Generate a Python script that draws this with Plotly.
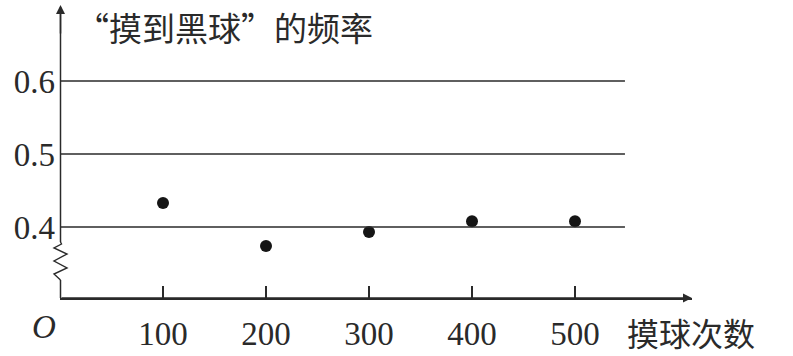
import plotly.graph_objects as go

# ---- data ----
draws = [100, 200, 300, 400, 500]
freq = [0.433, 0.374, 0.393, 0.408, 0.408]
y_ticks = [0.4, 0.5, 0.6]
y_tick_text = ["0.4", "0.5", "0.6"]
x_tick_text = ["100", "200", "300", "400", "500"]
title_text = "“摸到黑球”的频率"
x_title = "摸球次数"

# ---- geometry ----
W, H = 793, 356
ML, MR, MT, MB = 60, 101, 5, 58
PW, PH = W - ML - MR, H - MT - MB
px_per_x = 1.03          # pixels per x unit
px_per_y = 730.0         # pixels per y unit
x_max = PW / px_per_x
y_min = 0.4 - 71 / px_per_y
y_max = y_min + PH / px_per_y
grid_end = 548.5

ink = "#2a2a2a"
serif = "Liberation Serif"
cjk = "Noto Sans CJK SC"

fig = go.Figure()
fig.add_trace(go.Scatter(
    x=draws, y=freq, mode="markers",
    marker=dict(size=12, color="#151515"),
    hoverinfo="skip", showlegend=False, cliponaxis=False))

shapes = []
for v in y_ticks:
    shapes.append(dict(type="line", xref="x", yref="y", x0=0, x1=grid_end, y0=v, y1=v,
                       line=dict(color=ink, width=1.5)))

def px(p):
    # horizontal pixel offset from the y axis -> paper fraction
    return p / PW

def dy(p):
    return p / px_per_y

# y axis with break (zigzag)
zig_bot = y_min + dy(18)
zig_top = zig_bot + dy(38)
shapes.append(dict(type="line", xref="paper", yref="y", x0=px(0.5), x1=px(0.5),
                   y0=y_min, y1=zig_bot, line=dict(color=ink, width=1.5)))
shapes.append(dict(type="line", xref="paper", yref="y", x0=px(0.5), x1=px(0.5),
                   y0=zig_top, y1=y_max - dy(4), line=dict(color=ink, width=1.5)))
zig_pts = [(0.5, 0), (-6, 6), (7, 12), (-6, 19), (7, 26), (-6, 32), (1.5, 36), (0.5, 38)]
path = "M " + " L ".join(f"{px(a)},{zig_bot + dy(b)}" for a, b in zig_pts)
shapes.append(dict(type="path", xref="paper", yref="y", path=path,
                   line=dict(color=ink, width=1.4)))

annotations = [
    dict(x=px(0.5), y=y_max, ax=0, ay=30, xref="paper", yref="y",
         axref="pixel", ayref="pixel",
         text="", showarrow=True, arrowhead=2, arrowsize=1.2, arrowwidth=1.5,
         arrowcolor=ink),
    dict(x=x_max, y=y_min, ax=0, ay=y_min, xref="x", yref="y", axref="x", ayref="y",
         text="", showarrow=True, arrowhead=2, arrowsize=1.2, arrowwidth=1.5,
         arrowcolor=ink),
    dict(x=px(14), y=y_max - dy(22), xref="paper", yref="y", xanchor="left", yanchor="middle",
         text=title_text, showarrow=False, font=dict(family=cjk, size=33, color=ink)),
    dict(x=(626 - ML) / PW, y=-34 / PH, xref="paper", yref="paper", xanchor="left",
         yanchor="middle", text=x_title, showarrow=False, borderpad=0,
         font=dict(family=cjk, size=32, color=ink)),
    dict(x=-16 / PW, y=-29 / PH, xref="paper", yref="paper", xanchor="center",
         yanchor="middle", text="<i>O</i>", showarrow=False,
         font=dict(family=serif, size=33, color=ink)),
]

fig.update_layout(
    width=W, height=H,
    margin=dict(l=ML, r=MR, t=MT, b=MB, pad=0, autoexpand=False),
    paper_bgcolor="white", plot_bgcolor="white",
    shapes=shapes, annotations=annotations,
    xaxis=dict(range=[0, x_max], tickvals=draws, ticktext=x_tick_text, automargin=False,
               showgrid=False, zeroline=False, showline=True, linecolor=ink, linewidth=1.5,
               ticks="inside", ticklen=12, tickwidth=1.5, tickcolor=ink,
               ticklabelstandoff=6,
               tickfont=dict(family=serif, size=33, color=ink)),
    yaxis=dict(range=[y_min, y_max], tickvals=y_ticks, ticktext=y_tick_text, automargin=False,
               showgrid=False, zeroline=False, showline=False, ticks="",
               ticklabelstandoff=4,
               tickfont=dict(family=serif, size=33, color=ink)),
)

fig.write_html("out.html")
